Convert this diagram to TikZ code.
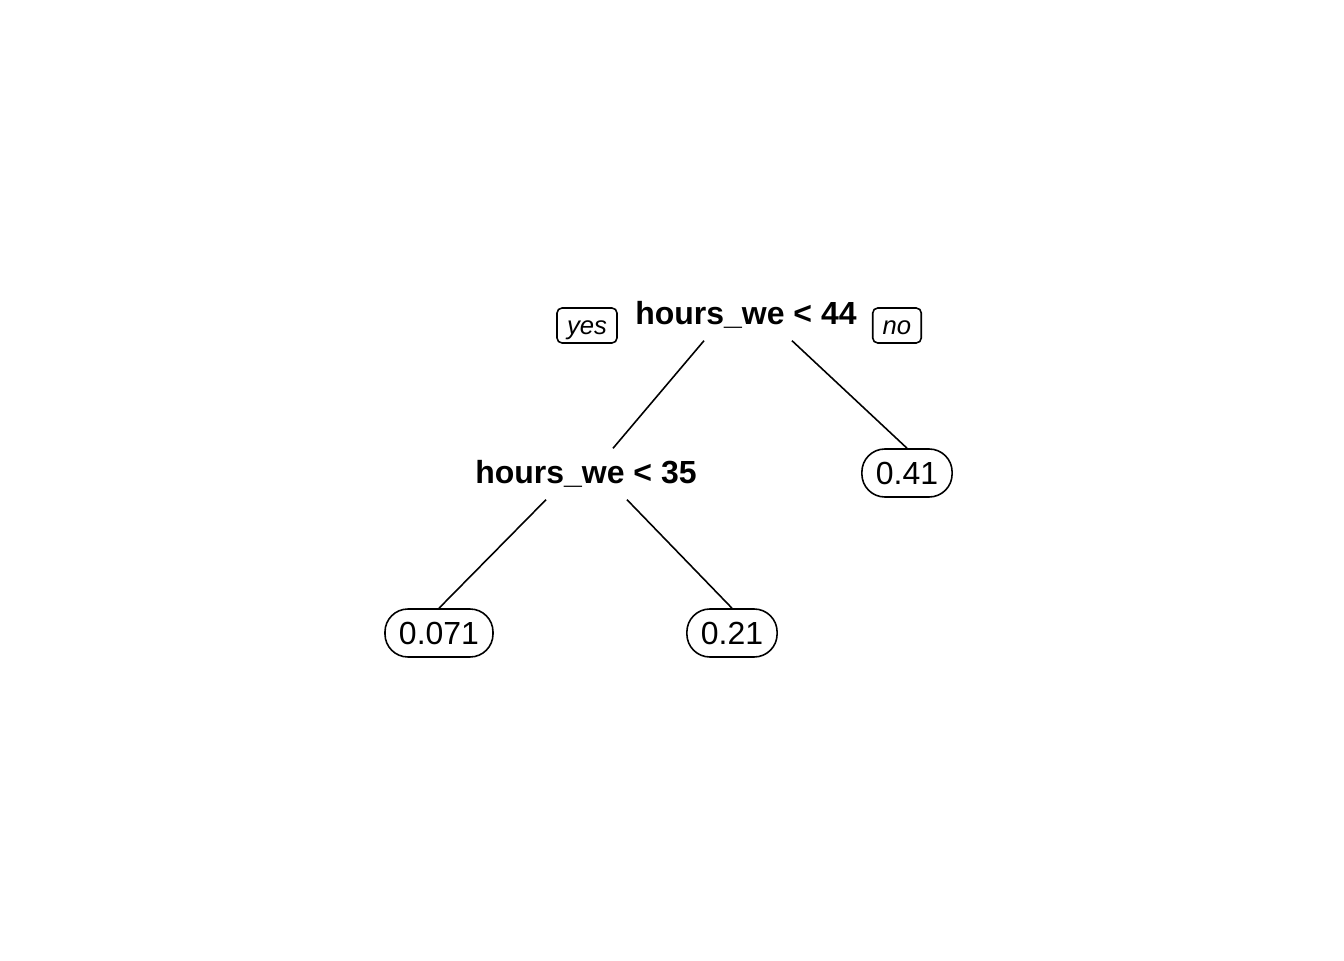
\documentclass[tikz,border=0pt]{standalone}
\usepackage{fontspec}
\setmainfont{Liberation Sans}
\usepackage{tikz}

\tikzset{
	split/.style={font=\fontsize{9.1}{11}\selectfont\bfseries, inner sep=0pt, minimum height=0.54cm},
	leaf/.style={draw, line width=0.45pt, rounded corners=0.23cm, font=\fontsize{9.1}{11}\selectfont, inner xsep=0.14cm, inner ysep=0pt, minimum height=0.48cm},
	answer/.style={draw, line width=0.45pt, rounded corners=0.05cm, font=\fontsize{7.3}{9}\selectfont\itshape, inner xsep=0.1cm, inner ysep=0pt, text height=0.26cm, text depth=0.09cm},
	branch/.style={line width=0.45pt}
}

\begin{document}
\begin{tikzpicture}
	\useasboundingbox (0,0) rectangle (13.44,9.60);
	
	\node (root) at (7.46,6.45) [split] {hours\_we < 44};
	\node (yes) at (5.87,6.345) [answer] {yes};
	\node (no) at (8.97,6.345) [answer] {no};
	
	\node (split2) at (5.86,4.86) [split] {hours\_we < 35};
	\node (leafA) at (9.07,4.87) [leaf] {0.41};
	\node (leafB) at (4.39,3.27) [leaf] {0.071};
	\node (leafC) at (7.32,3.27) [leaf] {0.21};
	
	\draw[branch] ([xshift=-0.42cm,yshift=0.02cm]root.south) -- ([xshift=0.27cm,yshift=-0.02cm]split2.north);
	\draw[branch] ([xshift=0.46cm,yshift=0.02cm]root.south) -- (leafA.north);
	\draw[branch] ([xshift=-0.40cm,yshift=0.02cm]split2.south) -- (leafB.north);
	\draw[branch] ([xshift=0.41cm,yshift=0.02cm]split2.south) -- (leafC.north);
	
\end{tikzpicture}
\end{document}
